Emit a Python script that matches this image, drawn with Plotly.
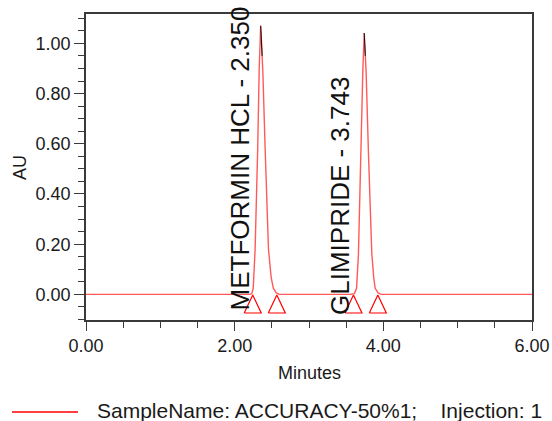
import plotly.graph_objects as go

# ---- data ----
time_min = [0.00, 1.00, 2.00, 2.20, 2.23, 2.25, 2.275, 2.295, 2.31, 2.33, 2.35, 2.365, 2.38,
            2.41, 2.43, 2.455, 2.49, 2.52, 2.56, 2.60, 3.00, 3.55, 3.61, 3.64, 3.665, 3.68,
            3.69, 3.724, 3.743, 3.768, 3.80, 3.82, 3.845, 3.87, 3.89, 3.93, 3.97, 5.00, 6.00]
au = [0.000, 0.001, 0.000, 0.000, 0.003, 0.025, 0.18, 0.40, 0.58, 0.90, 1.07, 0.98, 0.88,
      0.58, 0.36, 0.18, 0.07, 0.025, 0.006, 0.000, 0.000, 0.000, 0.003, 0.024, 0.16, 0.35,
      0.56, 0.89, 1.041, 0.89, 0.56, 0.36, 0.163, 0.07, 0.024, 0.006, 0.000, 0.000, 0.000]

peak_names = ["METFORMIN HCL", "GLIMIPRIDE"]
peak_rt = ["2.350", "3.743"]
peak_start = [2.243, 3.598]
peak_end = [2.567, 3.926]

legend_text = "SampleName: ACCURACY-50%1;\u00a0\u00a0\u00a0\u00a0Injection: 1"

# ---- layout constants (pixels) ----
W, H = 552, 421
ML, MR, MT, MB = 86, 20, 14, 101
PW, PH = W - ML - MR, H - MT - MB
X_RANGE = [0, 6]
Y_RANGE = [-0.102, 1.117]
FONT = "Liberation Sans, Arial, sans-serif"
RED = "rgb(255,0,0)"
TRACE_RED = "rgba(255,0,0,0.65)"
TIP_LEVEL = 0.95


def px_to_x(px):
    return X_RANGE[0] + (px - ML) / PW * (X_RANGE[1] - X_RANGE[0])


def px_to_y(py):
    return Y_RANGE[1] - (py - MT) / PH * (Y_RANGE[1] - Y_RANGE[0])


fig = go.Figure()

# chromatogram
fig.add_trace(go.Scatter(x=time_min, y=au, mode="lines",
                         line=dict(color=TRACE_RED, width=1.4), showlegend=False,
                         hoverinfo="skip"))

# dark apex of each peak: from the apex down the trailing side to TIP_LEVEL
tip_x, tip_y = [], []
for i in range(1, len(au) - 1):
    if au[i] >= TIP_LEVEL and au[i] > au[i - 1] and au[i] >= au[i + 1]:
        tip_x.append(time_min[i])
        tip_y.append(au[i])
        j = i + 1
        while au[j] >= TIP_LEVEL:
            tip_x.append(time_min[j])
            tip_y.append(au[j])
            j += 1
        frac = (au[j - 1] - TIP_LEVEL) / (au[j - 1] - au[j])
        tip_x.append(time_min[j - 1] + frac * (time_min[j] - time_min[j - 1]))
        tip_y.append(TIP_LEVEL)
        tip_x.append(None)
        tip_y.append(None)
fig.add_trace(go.Scatter(x=tip_x, y=tip_y, mode="lines",
                         line=dict(color="#111111", width=1), showlegend=False,
                         hoverinfo="skip"))

# peak start / end markers (open triangles below baseline)
half_w = 8.5 / PW * (X_RANGE[1] - X_RANGE[0])
y_apex = px_to_y(295)
y_base = px_to_y(313)
tri_x, tri_y = [], []
for t in peak_start + peak_end:
    tri_x += [t - half_w, t, t + half_w, t - half_w, None]
    tri_y += [y_base, y_apex, y_base, y_base, None]
fig.add_trace(go.Scatter(x=tri_x, y=tri_y, mode="lines",
                         line=dict(color=RED, width=1.2), showlegend=False,
                         hoverinfo="skip"))

# peak labels
label_cx = [239.5, 340.0]
label_bottom = [313, 317]
for name, rt, cx, bt in zip(peak_names, peak_rt, label_cx, label_bottom):
    fig.add_annotation(x=px_to_x(cx), y=px_to_y(bt), xref="x", yref="y",
                       text=f"{name} - {rt}", textangle=-90, showarrow=False,
                       xanchor="center", yanchor="bottom",
                       font=dict(family=FONT, size=26, color="#111111"))

# axis titles
fig.add_annotation(x=0.5, y=(PH + MT - 373) / PH, xref="paper", yref="paper",
                   text="Minutes", showarrow=False, xanchor="center", yanchor="middle",
                   font=dict(family=FONT, size=18, color="#1a1a1a"))
fig.add_annotation(x=(20 - ML) / PW, y=(PH + MT - 168) / PH, xref="paper", yref="paper",
                   text="AU", textangle=-90, showarrow=False, xanchor="center",
                   yanchor="middle", font=dict(family=FONT, size=18, color="#1a1a1a"))

# legend (drawn manually: long line sample + text)
fig.add_shape(type="line", xref="paper", yref="paper",
              x0=(12 - ML) / PW, x1=(78 - ML) / PW,
              y0=(PH + MT - 412) / PH, y1=(PH + MT - 412) / PH,
              line=dict(color=RED, width=1.5))
fig.add_annotation(x=(95 - ML) / PW, y=(PH + MT - 410) / PH, xref="paper", yref="paper",
                   text=legend_text, showarrow=False, xanchor="left", yanchor="middle",
                   font=dict(family=FONT, size=21, color="#1a1a1a"))

axis_common = dict(showgrid=False, zeroline=False, showline=True, mirror=True,
                   linecolor="#3a3a3a", linewidth=1.5, ticks="outside",
                   tickcolor="#3a3a3a", tickwidth=1.2, automargin=False,
                   tickfont=dict(family=FONT, size=18, color="#1a1a1a"))

fig.update_xaxes(range=X_RANGE, tickmode="linear", tick0=0, dtick=2,
                 tickformat=".2f", ticklen=9,
                 minor=dict(ticks="outside", dtick=0.5, ticklen=6,
                            tickcolor="#3a3a3a", tickwidth=1.2),
                 **axis_common)
fig.update_yaxes(range=Y_RANGE, tickmode="linear", tick0=0, dtick=0.2,
                 tickformat=".2f", ticklen=10,
                 minor=dict(ticks="outside", dtick=0.05, ticklen=6,
                            tickcolor="#3a3a3a", tickwidth=1.2),
                 **axis_common)

fig.update_layout(width=W, height=H, autosize=False,
                  margin=dict(l=ML, r=MR, t=MT, b=MB, pad=0, autoexpand=False),
                  plot_bgcolor="white", paper_bgcolor="white",
                  showlegend=False)

fig.write_html("out.html", config={"responsive": False})
